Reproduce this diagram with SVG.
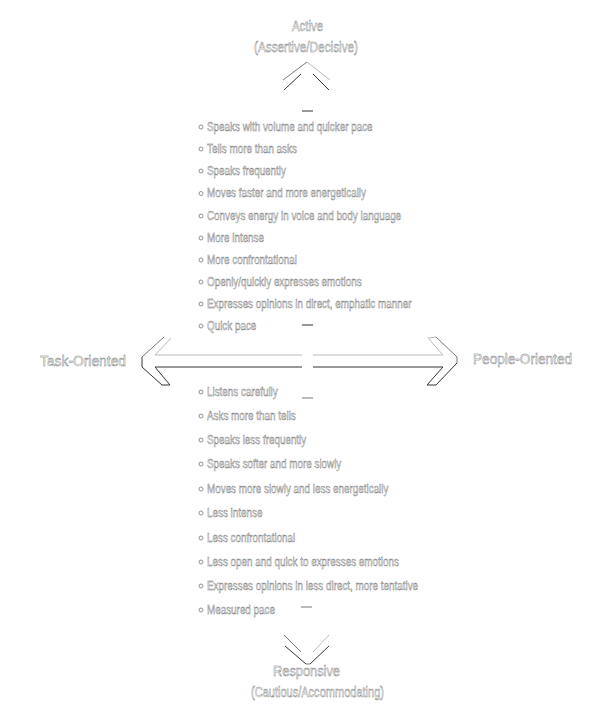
<svg xmlns="http://www.w3.org/2000/svg" width="613" height="725" viewBox="0 0 613 725">
<style>
text{font-family:"Liberation Sans",Arial,sans-serif;fill:#fff;stroke:#707070;stroke-width:0.45;}
.h{font-size:15px;}
.b{font-size:12.5px;}
.dk{stroke:#333;stroke-width:1;fill:none;}
.md{stroke:#777;stroke-width:1;fill:none;}
.lt{stroke:#bbb;stroke-width:1;fill:none;}
.dot{fill:#fff;stroke:#777;stroke-width:0.8;}
</style>
<rect width="613" height="725" fill="#fff"/>

<g id="connectors">
  <line class="dk" x1="302" y1="111" x2="313" y2="111"/>
  <line class="dk" x1="302" y1="325" x2="313" y2="325"/>
  <line class="md" x1="302" y1="398" x2="313" y2="398"/>
  <line class="md" x1="301" y1="607" x2="312" y2="607"/>
  <line class="md" x1="283" y1="80" x2="307" y2="62"/>
  <line class="lt" x1="307" y1="62" x2="330" y2="80"/>
  <line class="dk" x1="301" y1="74" x2="284" y2="90"/>
  <line class="dk" x1="313" y1="74" x2="329" y2="90"/>
  <line class="md" x1="284" y1="635" x2="301" y2="652"/>
  <line class="lt" x1="313" y1="652" x2="329" y2="635"/>
  <line class="dk" x1="285" y1="646" x2="306" y2="664"/>
  <line class="dk" x1="310" y1="664" x2="329" y2="646"/>
  <line class="md" x1="306" y1="664" x2="310" y2="664"/>
  <line class="lt" x1="155" y1="355" x2="302" y2="355"/>
  <line class="dk" x1="155" y1="367" x2="302" y2="367"/>
  <line class="lt" x1="155" y1="355" x2="171" y2="338"/>
  <line class="md" x1="164" y1="337" x2="142" y2="357"/>
  <line class="dk" x1="142" y1="357" x2="142" y2="367"/>
  <line class="dk" x1="142" y1="367" x2="162" y2="385"/>
  <line class="dk" x1="162" y1="385" x2="170" y2="385"/>
  <line class="dk" x1="170" y1="385" x2="155" y2="367"/>
  <line class="lt" x1="313" y1="355" x2="443" y2="355"/>
  <line class="dk" x1="313" y1="367" x2="443" y2="367"/>
  <line class="lt" x1="443" y1="355" x2="428" y2="338"/>
  <line class="lt" x1="428" y1="338" x2="436" y2="337"/>
  <line class="md" x1="436" y1="337" x2="457" y2="357"/>
  <line class="md" x1="457" y1="357" x2="457" y2="363"/>
  <line class="dk" x1="457" y1="363" x2="436" y2="385"/>
  <line class="dk" x1="436" y1="385" x2="427" y2="385"/>
  <line class="dk" x1="427" y1="385" x2="443" y2="367"/>
</g>

<g id="active">
  <text class="h" x="292" y="31" textLength="31" lengthAdjust="spacingAndGlyphs">Active</text>
  <text class="h" x="254" y="52" textLength="104" lengthAdjust="spacingAndGlyphs">(Assertive/Decisive)</text>
</g>

<g id="responsive">
  <text class="h" x="273" y="676" textLength="67" lengthAdjust="spacingAndGlyphs">Responsive</text>
  <text class="h" x="251" y="697" textLength="133" lengthAdjust="spacingAndGlyphs">(Cautious/Accommodating)</text>
</g>

<g id="task-oriented">
  <text class="h" x="40" y="366" textLength="86" lengthAdjust="spacingAndGlyphs">Task-Oriented</text>
</g>

<g id="people-oriented">
  <text class="h" x="473" y="364" textLength="99" lengthAdjust="spacingAndGlyphs">People-Oriented</text>
</g>

<g id="active-traits">
  <circle class="dot" cx="201" cy="127" r="2"/>
  <circle class="dot" cx="201" cy="149" r="2"/>
  <circle class="dot" cx="201" cy="171" r="2"/>
  <circle class="dot" cx="201" cy="193.5" r="2"/>
  <circle class="dot" cx="201" cy="216" r="2"/>
  <circle class="dot" cx="201" cy="238" r="2"/>
  <circle class="dot" cx="201" cy="260" r="2"/>
  <circle class="dot" cx="201" cy="282" r="2"/>
  <circle class="dot" cx="201" cy="304" r="2"/>
  <circle class="dot" cx="201" cy="326" r="2"/>
  <g transform="translate(207,0) scale(0.79,1)">
    <text class="b" x="0" y="131">Speaks with volume and quicker pace</text>
    <text class="b" x="0" y="153">Tells more than asks</text>
    <text class="b" x="0" y="175">Speaks frequently</text>
    <text class="b" x="0" y="197.5">Moves faster and more energetically</text>
    <text class="b" x="0" y="220">Conveys energy in voice and body language</text>
    <text class="b" x="0" y="242">More intense</text>
    <text class="b" x="0" y="264">More confrontational</text>
    <text class="b" x="0" y="286">Openly/quickly expresses emotions</text>
    <text class="b" x="0" y="308">Expresses opinions in direct, emphatic manner</text>
    <text class="b" x="0" y="330">Quick pace</text>
  </g>
</g>

<g id="responsive-traits">
  <circle class="dot" cx="201" cy="392" r="2"/>
  <circle class="dot" cx="201" cy="416" r="2"/>
  <circle class="dot" cx="201" cy="440" r="2"/>
  <circle class="dot" cx="201" cy="464" r="2"/>
  <circle class="dot" cx="201" cy="489" r="2"/>
  <circle class="dot" cx="201" cy="513" r="2"/>
  <circle class="dot" cx="201" cy="538" r="2"/>
  <circle class="dot" cx="201" cy="562" r="2"/>
  <circle class="dot" cx="201" cy="586" r="2"/>
  <circle class="dot" cx="201" cy="610" r="2"/>
  <g transform="translate(207,0) scale(0.79,1)">
    <text class="b" x="0" y="396">Listens carefully</text>
    <text class="b" x="0" y="420">Asks more than tells</text>
    <text class="b" x="0" y="444">Speaks less frequently</text>
    <text class="b" x="0" y="468">Speaks softer and more slowly</text>
    <text class="b" x="0" y="493">Moves more slowly and less energetically</text>
    <text class="b" x="0" y="517">Less intense</text>
    <text class="b" x="0" y="542">Less confrontational</text>
    <text class="b" x="0" y="566">Less open and quick to expresses emotions</text>
    <text class="b" x="0" y="590">Expresses opinions in less direct, more tentative</text>
    <text class="b" x="0" y="614">Measured pace</text>
  </g>
</g>
</svg>
